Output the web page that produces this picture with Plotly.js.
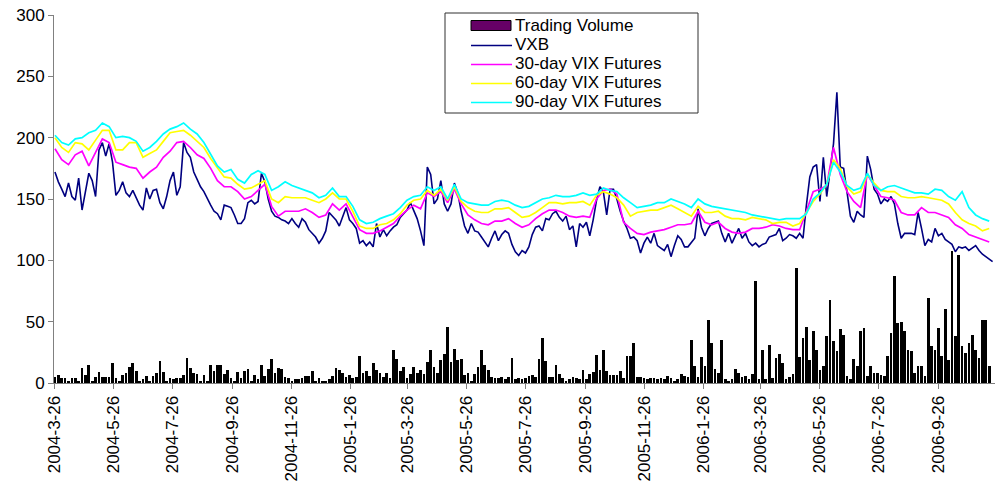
<!DOCTYPE html>
<html>
<head>
<meta charset="utf-8">
<script src="https://cdn.plot.ly/plotly-3.0.1.min.js"></script>
<style>
  html, body { margin: 0; padding: 0; background: #fff; }
  #chart { width: 995px; height: 495px; }
</style>
</head>
<body>
<div id="chart"></div>
<script>
// ---- Data ----
// VXB: twice-weekly observations starting 2004-03-26
const vxbStart = '2004-03-26';
const vxbStepDays = 3.5;
const vxb = [
  172,164,158,152,163,152,149,167,141,157,
  171,165,152,190,196,185,195,180,153,157,
  164,155,152,157,151,145,141,159,150,157,
  158,147,142,152,165,172,153,160,196,188,
  184,172,166,160,156,150,145,140,138,133,
  145,144,143,137,130,130,134,147,149,146,
  148,171,164,150,140,136,135,133,132,130,
  134,130,127,134,131,125,122,119,114,118,
  124,139,136,133,128,136,143,133,130,126,
  114,116,112,115,111,130,119,125,120,124,
  127,129,135,138,141,147,140,134,124,112,
  176,170,146,150,165,146,140,146,163,155,
  140,128,122,130,124,123,119,115,111,118,
  124,116,121,124,122,113,107,104,108,106,
  111,121,127,128,124,134,133,138,140,135,
  132,136,125,128,111,130,127,131,120,133,
  149,160,156,137,158,158,150,140,132,126,
  118,119,116,106,114,119,114,122,112,110,
  108,113,103,112,120,117,111,111,115,118,
  142,127,120,126,130,131,132,122,115,122,
  114,120,126,118,122,115,112,114,111,113,
  114,119,120,121,126,116,118,121,120,118,
  122,118,145,168,176,178,148,184,152,172,
  195,237,176,175,157,136,131,140,137,135,
  185,174,158,154,146,150,148,152,146,130,
  118,122,122,122,121,139,126,112,117,115,
  126,120,122,117,115,113,107,111,110,111,
  108,110,112,108,105,103,101,99
];

// VIX futures: weekly observations starting 2004-03-26
const futStart = '2004-03-26';
const futStepDays = 7;

const fut30 = [
  191,182,178,186,189,177,188,199,196,180, 178,176,175,167,172,176,184,189,196,197, 192,186,183,175,165,160,160,156,
  150,152,157,162,144,136,140,140,140,142,139,135,137,146,141,
  146,135,125,122,122,124,127,130,136,141,145,142,155,
  152,156,147,158,146,137,133,130,129,132, 132,134,130,127,129,134,138,141,141,139, 136,135,136,135,150,157,158,154,
  131,126,122,121,123,124,125,127,129,129, 130,140,131,129,131,126,123,122,123,126, 126,127,129,128,126,125,125,140,
  156,158,161,192,170,156,148,143,170,161, 152,151,149,139,137,137,143,139,139,137, 135,129,126,121,119,117,115
];

const fut60 = [
  200,192,188,196,195,190,198,206,206,190, 190,196,196,184,187,190,197,204,205,206, 202,197,192,183,175,168,167,162,
  158,159,162,165,150,147,152,151,151,151,149,147,150,155,150,
  150,140,128,126,126,129,130,133,138,145,149,150,157,
  153,158,149,160,148,143,140,139,139,142, 142,143,139,135,136,139,143,147,147,146, 147,147,148,145,153,156,154,151,
  145,136,139,140,141,141,143,145,142,139, 136,144,139,139,140,136,134,134,133,135, 134,133,130,131,131,128,130,139,
  148,154,162,182,175,160,154,156,170,163, 157,156,156,152,151,151,152,151,150,149, 146,139,133,130,128,124,126
];

const fut90 = [
  202,196,194,199,200,204,206,212,209,200, 201,200,197,189,192,197,203,207,209,212, 207,203,196,186,177,172,174,166,
  163,170,173,170,157,160,164,161,159,157,155,151,153,159,152,
  152,144,133,130,131,134,136,138,143,149,152,153,160,
  157,160,150,162,150,147,146,145,145,148, 149,148,145,143,144,147,150,151,153,152, 152,153,155,153,154,159,157,156,
  151,147,143,144,145,147,147,150,148,146, 143,150,146,144,143,142,141,140,139,137, 136,135,134,133,134,134,134,138,
  150,155,162,180,172,161,157,159,171,161, 157,160,161,159,157,155,155,154,158,157, 152,149,156,143,137,134,132
];

// Trading volume: twice-weekly observations starting 2004-03-26
const volStart = '2004-03-26';
const volStepDays = 3.5;
const volume = [
  5,6.5,4,4,2,4,4,2,12.5,6.5,
  14.7,2,5,8.7,5,5,5,16,4,2,
  6.5,8,13,16,10,2,3,6,2,6,
  8,18,9,2,4,3,4,4,6.5,20.6,
  12.5,8,7,2,6.5,2,14.7,10,14.7,14.7,
  7,11,4,2,8.7,4,10,11.4,2,6.5,
  3,14.7,5.7,11.4,19.6,8,12,11.4,5,4,
  2,3,3,4,5.7,5.7,10,2,4,2,
  2,3,5.7,12.5,11,8.4,5,6.5,4,4.6,
  22,8,10,6,16,11,8,5,8.4,4,
  27,19.6,10,13.3,4,7,13.3,8,11,7,
  17,27,13.3,8,18.7,24,46,17,28,18.7,
  19.3,6.5,8.4,2,7,13.3,27,14.7,10.6,5,
  4,4,4.6,3,5,20.6,3,4,3,4,
  5.7,6.5,5,19.3,37,18,4.6,5,14.7,7,
  4,2,3,5,4,3,11,3,7,9,
  23,10.6,27,10,6.5,6.5,6.5,10,4,22,
  22,32.6,5,5,4,3,4,4,3,4,
  3,5.7,4,2,3,7.6,5.4,5,35,13.6,
  5,21,14,51,32.6,11.4,8,35,3,2,
  3,11.4,8,5,6,3,7,83,3,27,
  3,30.7,4,20,24,16,3,5,7,94,
  21,37,46,19,42,27,11,13.6,38.6,68,
  34,26,44,39,5.4,3,19.6,13.6,42,45,
  5.4,13.6,8,8,6.8,6,22,41,87,49,
  50,42.7,27,26,8,13.6,13.6,5.4,69,30,
  27,45,21.7,60,19,108,38,104,30,24.5,
  32.6,39,27,20,51,51,13.6
];

const tickDates = [
  '2004-03-26','2004-05-26','2004-07-26','2004-09-26','2004-11-26',
  '2005-01-26','2005-03-26','2005-05-26','2005-07-26','2005-09-26','2005-11-26',
  '2006-01-26','2006-03-26','2006-05-26','2006-07-26','2006-09-26'
];

const seriesNames = ['Trading Volume','VXB','30-day VIX Futures','60-day VIX Futures','90-day VIX Futures'];
const seriesColors = ['#660066','#000080','#FF00FF','#FFFF00','#00FFFF'];

// ---- Build date categories ----
function dateSeries(start, stepDays, n) {
  const p = start.split('-').map(Number);
  const t0 = Date.UTC(p[0], p[1]-1, p[2]);
  const out = [];
  for (let k = 0; k < n; k++) {
    out.push(new Date(t0 + k*stepDays*86400000).toISOString().slice(0,19).replace('T',' '));
  }
  return out;
}
const vxbDates = dateSeries(vxbStart, vxbStepDays, vxb.length);
const futDates = dateSeries(futStart, futStepDays, fut30.length);
const volDates = dateSeries(volStart, volStepDays, volume.length);

const font = 'Liberation Sans, Arial, sans-serif';

const traces = [
  { type:'bar', name: seriesNames[0], x: volDates, y: volume,
    width: 2.8*86400000, showlegend: false,
    marker: { color:'#000000', line: { width: 0 } } },
  { type:'scatter', mode:'lines', name: seriesNames[1], x: vxbDates, y: vxb, showlegend: false,
    line: { color: seriesColors[1], width: 1.6 } },
  { type:'scatter', mode:'lines', name: seriesNames[2], x: futDates, y: fut30, showlegend: false,
    line: { color: seriesColors[2], width: 1.7 } },
  { type:'scatter', mode:'lines', name: seriesNames[3], x: futDates, y: fut60, showlegend: false,
    line: { color: seriesColors[3], width: 1.7 } },
  { type:'scatter', mode:'lines', name: seriesNames[4], x: futDates, y: fut90, showlegend: false,
    line: { color: seriesColors[4], width: 1.7 } }
];

// ---- Legend box drawn in paper coordinates ----
const plotL = 54, plotW = 941, plotT = 15, plotH = 368;
const px = v => (v - plotL) / plotW;
const py = v => (plotT + plotH - v) / plotH;

const rowY = [25.5, 44.5, 63.5, 82.5, 101.5];
const shapes = [
  { type:'rect', xref:'paper', yref:'paper', x0: px(445), x1: px(698), y0: py(113), y1: py(13),
    line: { color:'#303030', width: 1 }, fillcolor:'#ffffff', layer:'above' },
  { type:'rect', xref:'paper', yref:'paper', x0: px(471), x1: px(511), y0: py(rowY[0] + 5), y1: py(rowY[0] - 5),
    line: { color:'#000000', width: 1 }, fillcolor: seriesColors[0], layer:'above' }
];
const annotations = [];
for (let i = 0; i < 5; i++) {
  if (i > 0) {
    shapes.push({ type:'line', xref:'paper', yref:'paper', x0: px(471), x1: px(512),
      y0: py(rowY[i] + 1), y1: py(rowY[i] + 1), line: { color: seriesColors[i], width: 1.6 }, layer:'above' });
  }
  annotations.push({ xref:'paper', yref:'paper', x: px(514), y: py(rowY[i]), text: seriesNames[i],
    xanchor:'left', yanchor:'middle', showarrow:false, borderpad: 0,
    font:{ family: font, size: 17, color:'#000' } });
}

const layout = {
  width: 995, height: 495,
  margin: { l: plotL, r: 0, t: plotT, b: 495 - plotT - plotH, pad: 0 },
  paper_bgcolor: '#ffffff', plot_bgcolor: '#ffffff',
  font: { family: font, size: 17, color: '#000' },
  showlegend: false,
  bargap: 0,
  shapes: shapes,
  annotations: annotations,
  xaxis: {
    type: 'date',
    range: ['2004-03-25', '2006-11-23'],
    tickvals: tickDates,
    tickformat: '%Y-%-m-%-d',
    tickangle: -90,
    ticks: 'outside', ticklen: 5, tickcolor: '#808080',
    showline: true, linecolor: '#808080', linewidth: 1,
    showgrid: false, zeroline: false,
    tickfont: { family: font, size: 17, color: '#000' },
    fixedrange: true
  },
  yaxis: {
    range: [0, 300], dtick: 50,
    ticks: 'outside', ticklen: 5, tickcolor: '#808080',
    showline: true, linecolor: '#808080', linewidth: 1,
    showgrid: false, zeroline: false,
    tickfont: { family: font, size: 17, color: '#000' },
    fixedrange: true
  }
};

Plotly.newPlot('chart', traces, layout, { displayModeBar: false, staticPlot: true });
</script>
</body>
</html>
